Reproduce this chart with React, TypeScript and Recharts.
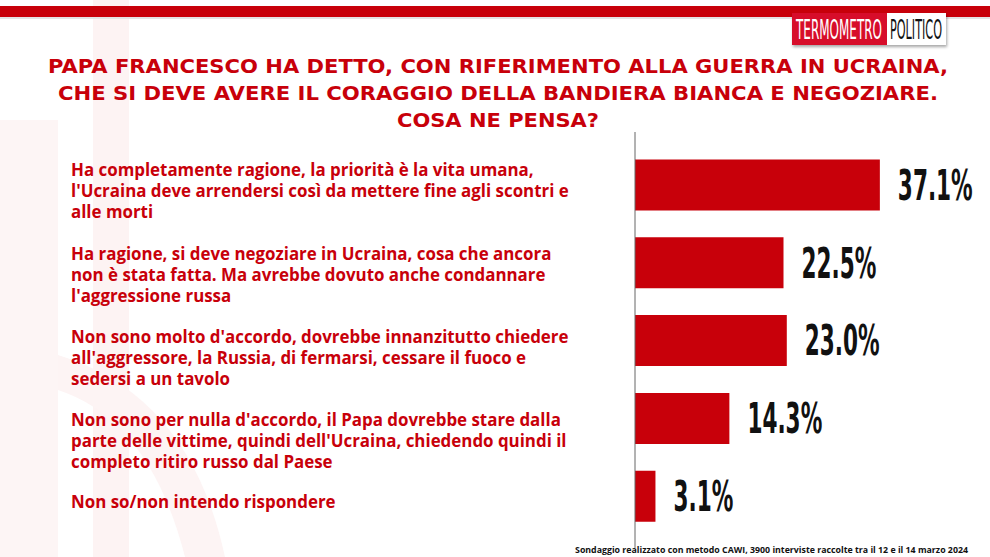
import React from "react";
import { BarChart, Bar, XAxis, YAxis, LabelList } from "recharts";

const categories: string[] = [
  "Ha completamente ragione, la priorità  è la vita umana,\nl'Ucraina deve arrendersi così da mettere fine agli scontri e\nalle morti",
  "Ha ragione, si deve negoziare in Ucraina, cosa che ancora\nnon è stata fatta. Ma avrebbe dovuto anche condannare\nl'aggressione russa",
  "Non sono molto d'accordo, dovrebbe innanzitutto chiedere\nall'aggressore, la Russia, di fermarsi, cessare il fuoco e\nsedersi a un tavolo",
  "Non sono per nulla d'accordo, il Papa dovrebbe stare dalla\nparte delle vittime, quindi dell'Ucraina, chiedendo quindi il\ncompleto ritiro russo dal Paese",
  "Non so/non intendo rispondere",
];
const values: number[] = [37.1, 22.5, 23.0, 14.3, 3.1];

const titleLines: string[] = [
  "PAPA FRANCESCO HA DETTO, CON RIFERIMENTO ALLA GUERRA IN UCRAINA,",
  "CHE SI DEVE AVERE IL CORAGGIO DELLA BANDIERA BIANCA E NEGOZIARE.",
  "COSA NE PENSA?",
];
const titleWidths: number[] = [900, 880, 202];
const footerText =
  "Sondaggio realizzato con metodo CAWI, 3900 interviste raccolte tra il 12 e il 14 marzo 2024";

const data = categories.map((c, i) => ({ name: c, value: values[i] }));

const RED = "#c8000a";
const LABEL_FONT = "'Open Sans', 'Noto Sans', sans-serif";
const TITLE_FONT = "'DejaVu Sans', 'Open Sans', sans-serif";
const NARROW = "'Liberation Sans Narrow', 'DejaVu Sans Condensed', sans-serif";
const tickShift = [-16.5, -10.5, -5.5, 0.5, 4.5];

const CategoryTick = (props: any) => {
  const { y, payload, index } = props;
  const lines: string[] = String(payload.value).split("\n");
  const y0 = y + (tickShift[index] ?? 0);
  return (
    <text
      x={71}
      y={y0}
      fill={RED}
      fontFamily={LABEL_FONT}
      fontWeight={700}
      fontSize={16.9}
      textAnchor="start"
      dominantBaseline="central"
    >
      {lines.map((l, i) => (
        <tspan key={i} x={71} dy={i === 0 ? 0 : 21}>
          {l}
        </tspan>
      ))}
    </text>
  );
};

const ValueLabel = (props: any) => {
  const { x, y, width, height, value } = props;
  const tx = Number(x) + Number(width) + 18;
  const ty = Number(y) + Number(height) / 2;
  return (
    <g transform={`translate(${tx},${ty}) scale(0.8,1.4)`}>
      <text
        x={0}
        y={0}
        fill="#111"
        fontFamily={NARROW}
        fontWeight={700}
        fontSize={30}
        dominantBaseline="central"
        textAnchor="start"
      >
        {Number(value).toFixed(1)}%
      </text>
    </g>
  );
};

export default function App() {
  return (
    <div
      style={{
        position: "fixed",
        left: 0,
        top: 0,
        width: 990,
        height: 557,
        background: "#ffffff",
        overflow: "hidden",
      }}
    >
      <style>{`body{margin:0}`}</style>
      {/* faint watermark, red bar, logo, title */}
      <svg
        width={990}
        height={557}
        style={{ position: "absolute", left: 0, top: 0 }}
      >
        <defs>
          <filter id="sh" x="-10%" y="-20%" width="130%" height="160%">
            <feDropShadow dx="1" dy="2" stdDeviation="1.5" floodColor="#000" floodOpacity="0.35" />
          </filter>
        </defs>
        <rect x={93} y={0} width={36} height={557} fill="#fdf3f3" />
        <rect x={0} y={120} width={58} height={437} fill="#fdf5f5" />
        <path
          d="M58 390 Q 150 420 185 557 L 225 557 Q 190 395 58 355 Z"
          fill="#fdf4f4"
        />
        <rect x={0} y={17} width={990} height={2} fill="#e4e4e4" />
        <rect x={0} y={6} width={990} height={11} fill={RED} />
        <g filter="url(#sh)">
          <rect x={792} y={13} width={95} height={32} fill="#d7102a" />
          <rect x={887} y={13} width={59} height={32} fill="#ffffff" />
        </g>
        <g transform="translate(796,39) scale(1,1.85)">
          <text
            x={0}
            y={0}
            fill="#ffffff"
            fontFamily={NARROW}
            fontSize={14.5}
            textLength={86}
            lengthAdjust="spacingAndGlyphs"
          >
            TERMOMETRO
          </text>
        </g>
        <g transform="translate(890,39) scale(1,1.85)">
          <text
            x={0}
            y={0}
            fill="#111111"
            fontFamily={NARROW}
            fontSize={14.5}
            textLength={52}
            lengthAdjust="spacingAndGlyphs"
          >
            POLITICO
          </text>
        </g>
        {titleLines.map((t, i) => (
          <text
            key={i}
            x={498}
            y={73 + i * 27}
            fill={RED}
            fontFamily={TITLE_FONT}
            fontWeight={700}
            fontSize={19}
            textAnchor="middle"
            textLength={titleWidths[i]}
            lengthAdjust="spacingAndGlyphs"
          >
            {t}
          </text>
        ))}
      </svg>
      <div style={{ position: "absolute", left: 0, top: 0 }}>
        <BarChart
          width={990}
          height={557}
          data={data}
          layout="vertical"
          margin={{ top: 132, right: 25, bottom: 9, left: 0 }}
        >
          <XAxis type="number" domain={[0, 50]} hide />
          <YAxis
            type="category"
            dataKey="name"
            width={635}
            padding={{ top: 14.5, bottom: 12.5 }}
            axisLine={{ stroke: "#666", strokeWidth: 1 }}
            tickLine={false}
            tick={<CategoryTick />}
            interval={0}
          />
          <Bar
            dataKey="value"
            fill={RED}
            barSize={51}
            isAnimationActive={false}
          >
            <LabelList dataKey="value" content={<ValueLabel />} />
          </Bar>
        </BarChart>
      </div>
      {/* footer */}
      <div
        style={{
          position: "absolute",
          right: 22,
          top: 544,
          fontFamily: LABEL_FONT,
          fontWeight: 700,
          fontSize: 8.8,
          color: "#111",
          whiteSpace: "nowrap",
          lineHeight: "13px",
        }}
      >
        {footerText}
      </div>
    </div>
  );
}
